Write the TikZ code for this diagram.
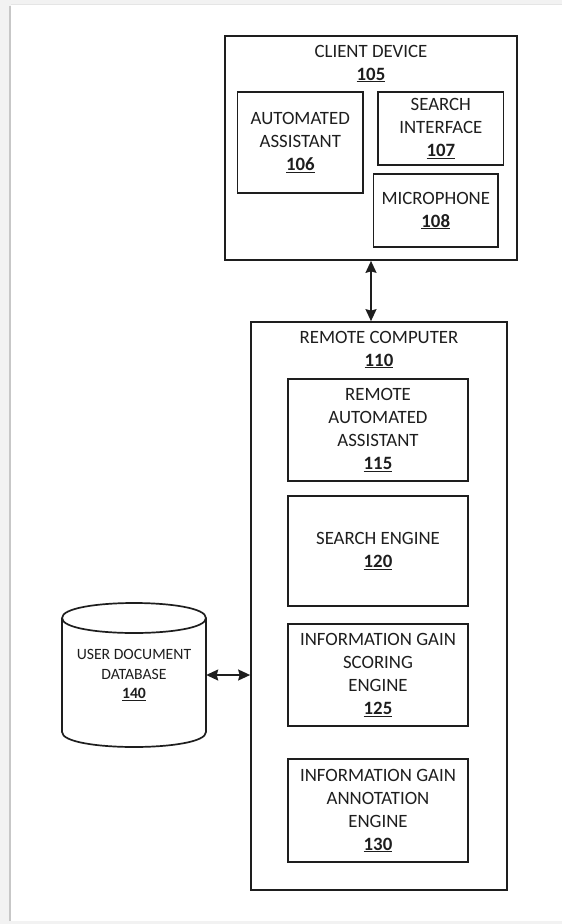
\documentclass[tikz,border=0pt]{standalone}
\usepackage{fontspec}
\setmainfont{Carlito}
\usetikzlibrary{arrows.meta}
\definecolor{ink}{RGB}{30,30,30}
\begin{document}
\begin{tikzpicture}[x=1pt,y=-1pt,
  box/.style={draw=ink,line width=1.7pt,inner sep=0pt,text=ink,align=center,
    font=\fontsize{18.8}{23}\selectfont},
  lbl/.style={text=ink,align=center,inner sep=0pt,font=\fontsize{18.8}{23}\selectfont},
  dblbl/.style={text=ink,align=center,inner sep=0pt,font=\fontsize{15.7}{19.5}\selectfont},
  arr/.style={draw=ink,line width=1.7pt,
    {Stealth[length=12pt,width=11pt,inset=1.5pt]}-{Stealth[length=12pt,width=11pt,inset=1.5pt]}}]
\useasboundingbox (0,0) rectangle (562,924);
\fill[black!5] (0,0) rectangle (562,924);
\fill[white] (11,5) rectangle (562,921);
\draw[black!22,line width=2pt] (10,6) -- (10,921);
\draw[black!10,line width=1pt] (11,4.5) -- (562,4.5);

% client device
\node[box,minimum width=292pt,minimum height=224pt] (client) at (371,148) {};
\node[lbl] (clientlbl) at (371,63.5) {CLIENT DEVICE\\\textbf{\underline{105}}};
\node[box,minimum width=125.4pt,minimum height=101pt] (aa) at (300.3,142.5)
  {AUTOMATED\\ASSISTANT\\\textbf{\underline{106}}};
\node[box,minimum width=125.6pt,minimum height=73pt] (si) at (440.8,128.5)
  {SEARCH\\INTERFACE\\\textbf{\underline{107}}};
\node[box,minimum width=124.5pt,minimum height=73pt] (mic) at (435.75,210.5)
  {MICROPHONE\\\textbf{\underline{108}}};

% remote computer
\node[box,minimum width=256pt,minimum height=568pt] (remote) at (379,606) {};
\node[lbl] (remotelbl) at (379,349.5) {REMOTE COMPUTER\\\textbf{\underline{110}}};
\node[box,minimum width=180pt,minimum height=102pt] (raa) at (378,430)
  {REMOTE\\AUTOMATED\\ASSISTANT\\\textbf{\underline{115}}};
\node[box,minimum width=180pt,minimum height=110pt] (se) at (378,551)
  {SEARCH ENGINE\\\textbf{\underline{120}}};
\node[box,minimum width=180pt,minimum height=102pt] (igs) at (378,675)
  {INFORMATION GAIN\\SCORING\\ENGINE\\\textbf{\underline{125}}};
\node[box,minimum width=180pt,minimum height=103pt] (iga) at (378,810.5)
  {INFORMATION GAIN\\ANNOTATION\\ENGINE\\\textbf{\underline{130}}};

% database
\node[dblbl,minimum width=144pt,minimum height=144pt] (db) at (134,675)
  {USER DOCUMENT\\DATABASE\\\textbf{\underline{140}}};
\draw[ink,line width=1.7pt,fill=white]
  (62,618) .. controls (62,598) and (206,598) .. (206,618)
  .. controls (206,638) and (62,638) .. (62,618);
\draw[ink,line width=1.7pt]
  (62,618) -- (62,732) .. controls (62,752) and (206,752) .. (206,732) -- (206,618);

% connectors
\draw[arr] (client.south) -- (client.south |- remote.north);
\draw[arr] (db.east) -- (db.east -| remote.west);
\end{tikzpicture}
\end{document}
